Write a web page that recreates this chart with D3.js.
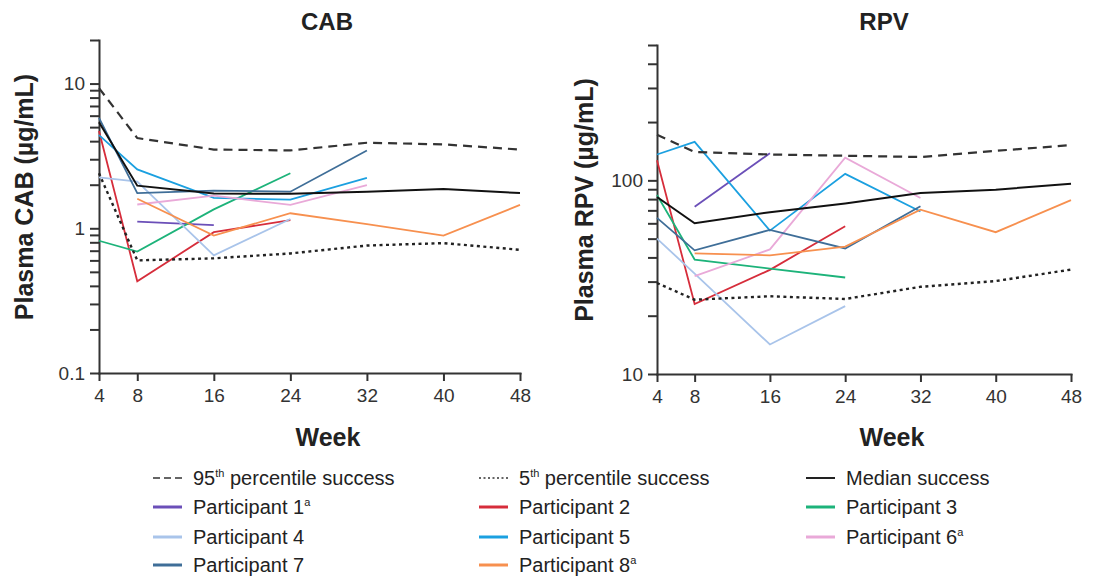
<!DOCTYPE html>
<html>
<head>
<meta charset="utf-8">
<script src="https://cdn.jsdelivr.net/npm/d3@7"></script>
<style>
  body { margin: 0; background: #fff; }
  svg { font-family: "Liberation Sans", Arial, sans-serif; }
  .axis path, .axis line { stroke: #333; stroke-width: 2; }
  .axis text { font-size: 19px; fill: #333; }
</style>
</head>
<body>
<div id="root"></div>
<script>
const width = 1094;
const height = 580;

// weeks on the x axis
const weeks = [4, 8, 16, 24, 32, 40, 48];

// CAB (µg/mL), null = no sample
const cabP95 = [9.3, 4.2, 3.5, 3.45, 3.9, 3.8, 3.5];
const cabP5 = [2.4, 0.6, 0.62, 0.67, 0.76, 0.79, 0.71];
const cabMedian = [5.4, 1.97, 1.74, 1.73, 1.79, 1.87, 1.75];
const cabP1 = [null, 1.11, 1.05, null, null, null, null];
const cabP2 = [4.7, 0.43, 0.94, 1.14, null, null, null];
const cabP3 = [0.82, 0.69, 1.35, 2.4, null, null, null];
const cabP4 = [2.25, 2.1, 0.65, 1.16, null, null, null];
const cabP5x = [4.4, 2.55, 1.62, 1.58, 2.23, null, null];
const cabP6 = [null, 1.46, 1.68, 1.45, 1.99, null, null];
const cabP7 = [5.8, 1.75, 1.82, 1.79, 3.45, null, null];
const cabP8 = [null, 1.6, 0.89, 1.27, 1.07, 0.89, 1.45];

// RPV
const rpvP95 = [172, 140, 136, 134, 132, 142, 152];
const rpvP5 = [29.5, 24.2, 25.2, 24.4, 28.2, 30.2, 34.6];
const rpvMedian = [82, 60, 68.5, 76, 86, 89.5, 96];
const rpvP1 = [null, 73, 138, null, null, null, null];
const rpvP2 = [127, 23, 34.5, 58, null, null, null];
const rpvP3 = [84, 39, 35, 31.5, null, null, null];
const rpvP4 = [50, 33, 14.2, 22.4, null, null, null];
const rpvP5x = [136, 158, 55, 108, 69, null, null];
const rpvP6 = [null, 32, 44, 131, 81, null, null];
const rpvP7 = [64, 43.5, 55.5, 44.5, 73.5, null, null];
const rpvP8 = [null, 42, 41, 45.5, 70.5, 54, 79];

const participantNames = ['Participant 1', 'Participant 2', 'Participant 3', 'Participant 4',
    'Participant 5', 'Participant 6', 'Participant 7', 'Participant 8'];
const participantSup = ['a', '', '', '', '', 'a', '', 'a'];
const participantColors = ['#6b4fb8', '#d62d3b', '#1db37a', '#a9c4ea',
    '#1ba0e0', '#e9a9d8', '#3f6e98', '#f7904f'];

const svg = d3.select('#root')
    .append('svg')
    .attr('width', width)
    .attr('height', height);

const drawPanel = (opt) => {
    const x = d3.scaleLinear().domain([4, 48]).range(opt.xRange);
    const y = d3.scaleLog().domain(opt.yDomain).range(opt.yRange);
    const g = svg.append('g');

    // y axis: every log tick, labels only on decades
    const yTicks = y.ticks().filter(t => t <= opt.yDomain[1] + 1e-9);
    g.append('g')
        .attr('class', 'axis')
        .attr('transform', `translate(${opt.xRange[0]},0)`)
        .call(d3.axisLeft(y).tickValues(yTicks).tickSize(9).tickSizeOuter(0).tickPadding(5)
            .tickFormat(t => opt.labels.includes(t) ? String(t) : ''));

    g.append('g')
        .attr('class', 'axis')
        .attr('transform', `translate(0,${opt.yRange[0]})`)
        .call(d3.axisBottom(x).tickValues(weeks).tickSize(8).tickSizeOuter(0).tickPadding(8)
            .tickFormat(d3.format('d')));

    g.selectAll('.domain').attr('stroke-linecap', 'square');

    const line = d3.line()
        .defined(d => d.v != null)
        .x(d => x(d.w))
        .y(d => y(d.v));
    const pts = arr => arr.map((v, i) => ({w: weeks[i], v}));

    opt.participants.forEach((arr, i) => {
        g.append('path')
            .attr('d', line(pts(arr)))
            .attr('fill', 'none')
            .attr('stroke', participantColors[i])
            .attr('stroke-width', 1.8);
    });

    g.append('path').attr('d', line(pts(opt.p95)))
        .attr('fill', 'none').attr('stroke', '#333').attr('stroke-width', 2.2)
        .attr('stroke-dasharray', '9,6');
    g.append('path').attr('d', line(pts(opt.p5)))
        .attr('fill', 'none').attr('stroke', '#222').attr('stroke-width', 2.4)
        .attr('stroke-dasharray', '3,3.5');
    g.append('path').attr('d', line(pts(opt.median)))
        .attr('fill', 'none').attr('stroke', '#111').attr('stroke-width', 2);

    svg.append('text')
        .attr('x', opt.titleX).attr('y', 30)
        .attr('text-anchor', 'middle')
        .attr('font-size', 24).attr('font-weight', 'bold').attr('fill', '#222')
        .text(opt.title);

    svg.append('text')
        .attr('x', opt.weekX).attr('y', 446)
        .attr('text-anchor', 'middle')
        .attr('font-size', 25).attr('font-weight', 'bold').attr('fill', '#222')
        .text('Week');

    svg.append('text')
        .attr('transform', `translate(${opt.labelX},${opt.labelY}) rotate(-90)`)
        .attr('text-anchor', 'middle')
        .attr('font-size', 25).attr('font-weight', 'bold').attr('fill', '#222')
        .text(opt.yLabel);
};

drawPanel({
    title: 'CAB', titleX: 327, weekX: 328,
    xRange: [99, 520], yDomain: [0.1, 20], yRange: [373, 40],
    labels: [0.1, 1, 10],
    yLabel: 'Plasma CAB (µg/mL)', labelX: 33, labelY: 197,
    p95: cabP95, p5: cabP5, median: cabMedian,
    participants: [cabP1, cabP2, cabP3, cabP4, cabP5x, cabP6, cabP7, cabP8]
});

drawPanel({
    title: 'RPV', titleX: 884, weekX: 892,
    xRange: [657, 1071], yDomain: [10, 500], yRange: [374, 45],
    labels: [10, 100],
    yLabel: 'Plasma RPV (µg/mL)', labelX: 593, labelY: 200,
    p95: rpvP95, p5: rpvP5, median: rpvMedian,
    participants: [rpvP1, rpvP2, rpvP3, rpvP4, rpvP5x, rpvP6, rpvP7, rpvP8]
});

// legend
const legendItems = [
    {name: '95', sup: 'th', rest: ' percentile success', color: '#333', dash: '7,4', w: 1.6},
    {name: '5', sup: 'th', rest: ' percentile success', color: '#333', dash: '2,2.5', w: 1.6},
    {name: 'Median success', sup: '', rest: '', color: '#222', dash: null, w: 2}
].concat(participantNames.map((n, i) => ({
    name: n, sup: participantSup[i], rest: '', color: participantColors[i], dash: null, w: 3
})));
const colX = [153, 479, 806];
const rowY = [478, 507, 537, 565];

const legend = svg.append('g').selectAll('g')
    .data(legendItems)
    .join('g')
    .attr('transform', (d, i) => `translate(${colX[i % 3]},${rowY[Math.floor(i / 3)]})`);

legend.append('line')
    .attr('x1', 0).attr('x2', 29).attr('y1', 0).attr('y2', 0)
    .attr('stroke', d => d.color)
    .attr('stroke-width', d => d.w)
    .attr('stroke-dasharray', d => d.dash);

const lt = legend.append('text')
    .attr('x', 40).attr('y', 7)
    .attr('font-size', 20).attr('fill', '#222');
lt.append('tspan').text(d => d.name);
lt.append('tspan').attr('dy', -8).attr('font-size', 11).text(d => d.sup);
lt.append('tspan').attr('dy', 8).text(d => d.rest);
</script>
</body>
</html>
